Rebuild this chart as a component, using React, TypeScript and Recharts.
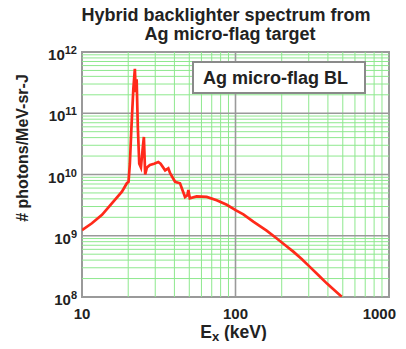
import React from "react";
import { LineChart, Line, XAxis, YAxis, ReferenceLine, ReferenceArea, Label } from "recharts";

const energyKeV = [10, 11.6, 13.5, 15.7, 18.2, 19.6, 20.1, 20.5, 21.0, 21.6, 22.1, 22.4, 22.7, 23.1, 23.6, 24.2, 24.8, 25.3, 25.8, 26.5, 27.7, 29.5, 31.4, 32.5, 34.8, 36.5, 37.5, 40.4, 43.5, 46.9, 48.6, 49.3, 50.4, 55.8, 64.9, 75.4, 87.7, 100.8, 112.5, 130.6, 159.5, 185, 210, 238, 270, 305, 346, 393, 445, 492];
const photons = [1.24e9, 1.6e9, 2.2e9, 3.4e9, 5.25e9, 7.2e9, 7.6e9, 1.5e10, 6e10, 2.5e11, 5.3e11, 2.2e11, 3.6e11, 6e10, 1.5e10, 1.3e10, 2.5e10, 4.1e10, 1e10, 1.3e10, 1.43e10, 1.5e10, 1.6e10, 1.5e10, 1.17e10, 1.26e10, 1.05e10, 7.6e9, 7.2e9, 4.3e9, 4.6e9, 5.6e9, 4.1e9, 4.4e9, 4.3e9, 3.8e9, 3.2e9, 2.6e9, 2.24e9, 1.7e9, 1.21e9, 9.1e8, 7.06e8, 5.5e8, 4.17e8, 3.1e8, 2.29e8, 1.67e8, 1.27e8, 1.01e8];

const xTicks = [10, 100, 1000];
const xTickLabels = ["10", "100", "1000"];
const yTicks = [1e8, 1e9, 1e10, 1e11, 1e12];
const yTickExponents = ["8", "9", "10", "11", "12"];
const mantissas = [2, 3, 4, 5, 6, 7, 8, 9];
const xDecades = [10, 100];
const yDecades = [1e8, 1e9, 1e10, 1e11];

const titleLines = ["Hybrid backlighter spectrum from", "Ag micro-flag target"];
const legendText = "Ag micro-flag BL";
const yLabel = "# photons/MeV-sr-J";

const data = energyKeV.map((e, i) => ({ e, v: photons[i] }));
const xMinor = xDecades.flatMap((d) => mantissas.map((m) => m * d));
const yMinor = yDecades.flatMap((d) => mantissas.map((m) => m * d));
const xMajor = [100];
const yMajor = [1e9, 1e10, 1e11];

const FONT = "'Liberation Sans', Arial, Helvetica, sans-serif";
const GREEN = "#8ee88e";
const GRAY = "#9a9a9a";
const W = 406;
const H = 349;

const XTick = (props: any) => {
  const { x, y, payload } = props;
  const idx = xTicks.indexOf(payload.value);
  const last = idx === xTicks.length - 1;
  return (
    <text
      x={last ? x + 7 : x}
      y={y + 22}
      textAnchor={last ? "end" : "middle"}
      fontFamily={FONT}
      fontWeight="bold"
      fontSize={15}
      fill="#222"
    >
      {xTickLabels[idx]}
    </text>
  );
};

const YTick = (props: any) => {
  const { x, y, payload } = props;
  const idx = yTicks.indexOf(payload.value);
  return (
    <text x={x - 5} y={y + 8} textAnchor="end" fontFamily={FONT} fontWeight="bold" fontSize={15} fill="#222">
      <tspan>10</tspan>
      <tspan dy={-6} fontSize={11}>{yTickExponents[idx]}</tspan>
    </text>
  );
};

const XLabel = (props: any) => {
  const vb = props.viewBox || {};
  const cx = vb.x + vb.width / 2 - 2;
  return (
    <text x={cx} y={vb.y + 40.5} textAnchor="middle" fontFamily={FONT} fontWeight="bold" fontSize={17.5} fill="#222">
      <tspan>E</tspan>
      <tspan fontSize={13} dy={3}>x</tspan>
      <tspan dy={-3}> (keV)</tspan>
    </text>
  );
};

const YLabel = () => {
  const cx = 22;
  const cy = 148;
  return (
    <text
      x={cx}
      y={cy}
      transform={`rotate(-90 ${cx} ${cy})`}
      textAnchor="middle"
      dominantBaseline="central"
      fontFamily={FONT}
      fontWeight="bold"
      fontSize={16}
      fill="#222"
    >
      {yLabel}
    </text>
  );
};

export default function App() {
  return (
    <div style={{ position: "relative", width: W, height: H, margin: -8, overflow: "hidden" }}>
      <LineChart width={W} height={H} data={data} margin={{ top: 52, right: W - 389, bottom: 0, left: 0 }}>
        <XAxis
          dataKey="e"
          type="number"
          scale="log"
          domain={[10, 1000]}
          ticks={xTicks}
          allowDataOverflow
          axisLine={false}
          tickLine={false}
          tickSize={0}
          tickMargin={0}
          height={H - 297}
          tick={<XTick />}
          interval={0}
        >
          <Label content={<XLabel />} />
        </XAxis>
        <YAxis
          type="number"
          scale="log"
          domain={[1e8, 1e12]}
          ticks={yTicks}
          allowDataOverflow
          axisLine={false}
          tickLine={false}
          tickSize={0}
          tickMargin={0}
          width={82}
          tick={<YTick />}
          interval={0}
        >
          <Label content={<YLabel />} />
        </YAxis>
        {yMinor.map((v) => (
          <ReferenceLine key={"ym" + v} y={v} stroke={GREEN} strokeWidth={1} />
        ))}
        {xMinor.map((v) => (
          <ReferenceLine key={"xm" + v} x={v} stroke={GREEN} strokeWidth={1} />
        ))}
        {yMajor.map((v) => (
          <ReferenceLine key={"yM" + v} y={v} stroke={GRAY} strokeWidth={1.6} />
        ))}
        {xMajor.map((v) => (
          <ReferenceLine key={"xM" + v} x={v} stroke={GRAY} strokeWidth={1.6} />
        ))}
        <ReferenceArea x1={10} x2={1000} y1={1e8} y2={1e12} fill="none" stroke={GRAY} strokeWidth={2} />
        <Line type="linear" dataKey="v" stroke="#ff2a1a" strokeWidth={2.7} dot={false} isAnimationActive={false} />
      </LineChart>
      <svg width={W} height={H} style={{ position: "absolute", left: 0, top: 0, pointerEvents: "none" }}>
        <text x={226} y={21} textAnchor="middle" fontFamily={FONT} fontWeight="bold" fontSize={18} fill="#222">
          {titleLines[0]}
        </text>
        <text x={230} y={40} textAnchor="middle" fontFamily={FONT} fontWeight="bold" fontSize={18} fill="#222">
          {titleLines[1]}
        </text>
        <rect x={193} y={62} width={172} height={31} fill="#fff" stroke="#8a8a8a" strokeWidth={2} />
        <text x={203} y={84} fontFamily={FONT} fontWeight="bold" fontSize={18} fill="#222">
          {legendText}
        </text>
      </svg>
    </div>
  );
}
